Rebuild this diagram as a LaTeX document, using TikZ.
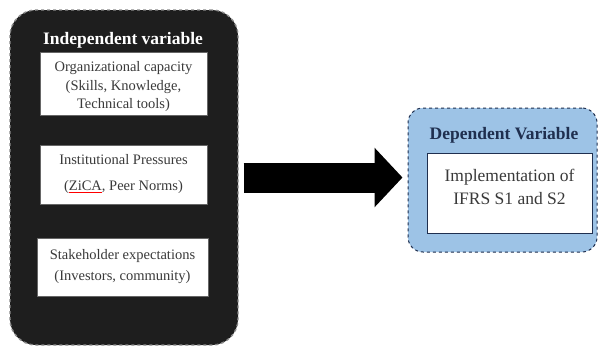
\documentclass[tikz,border=0pt]{standalone}
\usepackage{fontspec}
\setmainfont{Liberation Serif}
\usetikzlibrary{arrows.meta}
\definecolor{darkfill}{HTML}{1E1E1E}
\definecolor{darkedge}{HTML}{8A8A8A}
\definecolor{bluefill}{HTML}{9DC3E6}
\definecolor{navy}{HTML}{1F2F4F}
\definecolor{txtgray}{HTML}{3A3A3A}
\tikzset{
  outerdark/.style={draw=darkedge, dashed, line width=1.4pt, fill=darkfill, rounded corners=26pt, inner sep=0pt},
  outerblue/.style={draw=navy, dashed, line width=1pt, fill=bluefill, rounded corners=15pt, inner sep=0pt},
  itembox/.style={draw=black!60, fill=white, line width=0.6pt, inner sep=0pt, align=center, text=txtgray},
  itemtext/.style={inner sep=0pt, align=center, text=txtgray},
  resbox/.style={draw=navy, fill=white, line width=1pt, inner sep=0pt, align=center, font=\fontsize{17.5}{23}\selectfont, text=txtgray},
  titletxt/.style={font=\bfseries\fontsize{17.5}{19}\selectfont, inner sep=0pt},
  bigarrow/.style={line width=30pt, -{Triangle[length=28pt,width=58pt]}}
}
\begin{document}
\begin{tikzpicture}[x=1pt,y=-1pt]
\useasboundingbox (0,0) rectangle (600,351);
\fill[white] (0,0) rectangle (600,351);
% left container
\node[outerdark, minimum width=228pt, minimum height=335pt] (left) at (124,177.5) {};
\node[titletxt, text=white] (ltitle) at (123,40) {Independent variable};
\node[itembox, minimum width=167pt, minimum height=63pt] (b1) at (123.5,83.5) {};
\node[itemtext, font=\fontsize{14.5}{18.5}\selectfont] (b1t) at ([yshift=-3.5pt]b1.center) {Organizational capacity\\(Skills, Knowledge,\\Technical tools)};
\node[itembox, minimum width=167pt, minimum height=59pt, font=\fontsize{14.5}{26}\selectfont] (b2) at (123.5,174.5) {Institutional Pressures\\(\textcolor{red}{\underline{\textcolor{txtgray}{ZiCA}}}, Peer Norms)};
\node[itembox, minimum width=171pt, minimum height=58pt, font=\fontsize{14.5}{21}\selectfont] (b3) at (122.5,267) {Stakeholder expectations\\(Investors, community)};
% right container
\node[outerblue, minimum width=189pt, minimum height=144pt] (right) at (502.5,180) {};
\node[titletxt, text=navy] (rtitle) at (504,135) {Dependent Variable};
\node[resbox, minimum width=165pt, minimum height=80pt, text depth=13pt] (res) at (509.5,193) {Implementation of\\IFRS S1 and S2};
% arrow
\draw[bigarrow, shorten <=5pt, shorten >=5pt] (left.east) -- (left.east -| right.west);
\end{tikzpicture}
\end{document}
